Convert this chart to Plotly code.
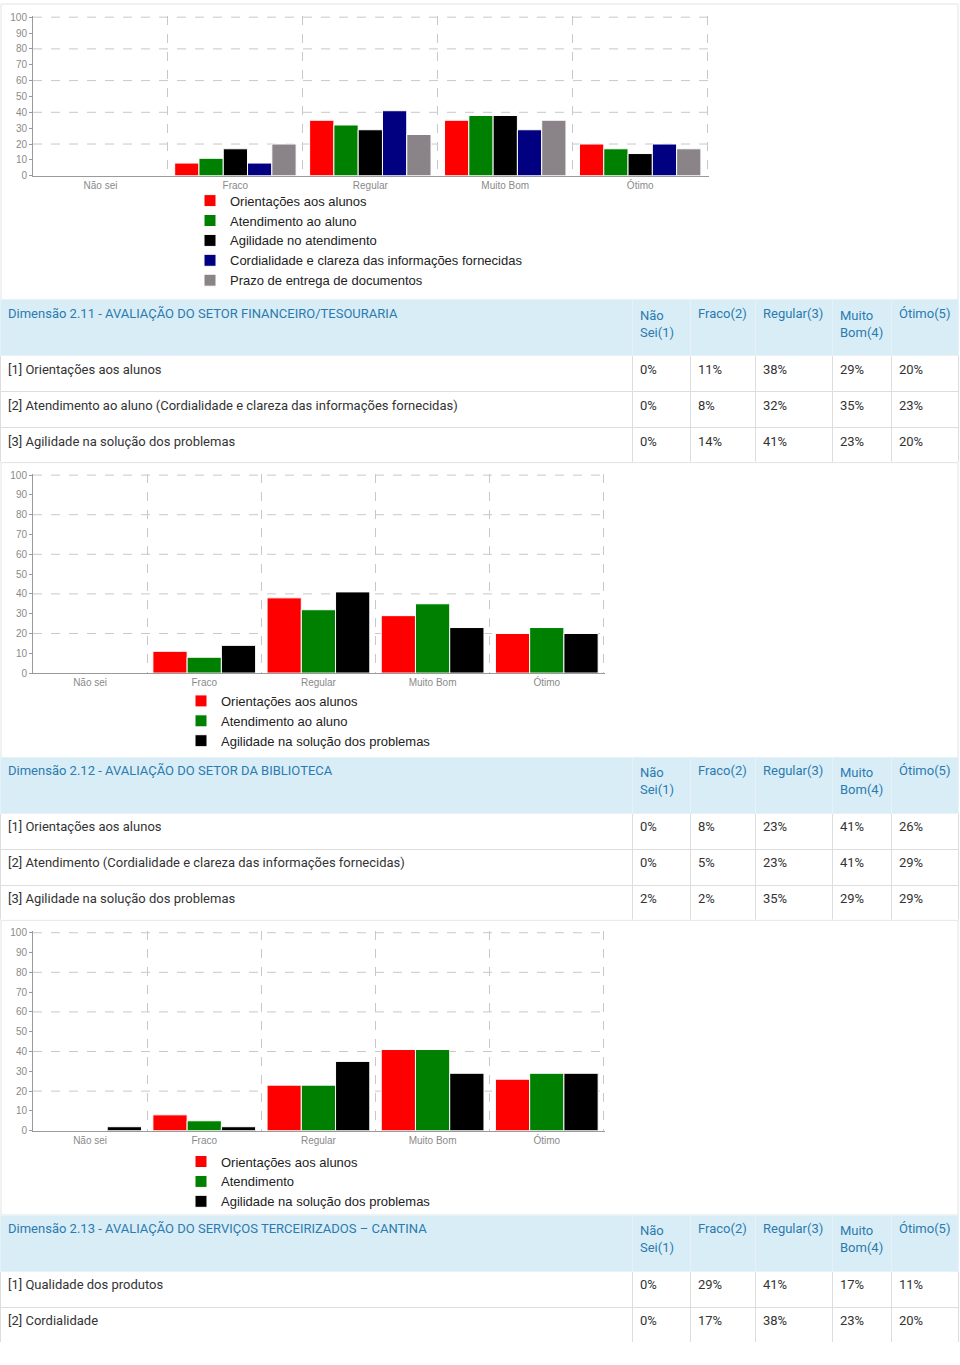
import plotly.graph_objects as go

W, H = 960, 1365

categories = ['Não sei', 'Fraco', 'Regular', 'Muito Bom', 'Ótimo']
grid_values = [20, 40, 60, 80, 100]

# chart 1
chart1_names = ['Orientações aos alunos', 'Atendimento ao aluno', 'Agilidade no atendimento',
                'Cordialidade e clareza das informações fornecidas', 'Prazo de entrega de documentos']
chart1_orientacoes = [0, 8, 35, 35, 20]
chart1_atendimento = [0, 11, 32, 38, 17]
chart1_agilidade = [0, 17, 29, 38, 14]
chart1_cordialidade = [0, 8, 41, 29, 20]
chart1_prazo = [0, 20, 26, 35, 17]

# chart 2 - dimensão 2.11
chart2_names = ['Orientações aos alunos', 'Atendimento ao aluno', 'Agilidade na solução dos problemas']
chart2_orientacoes = [0, 11, 38, 29, 20]
chart2_atendimento = [0, 8, 32, 35, 23]
chart2_agilidade = [0, 14, 41, 23, 20]

# chart 3 - dimensão 2.12
chart3_names = ['Orientações aos alunos', 'Atendimento', 'Agilidade na solução dos problemas']
chart3_orientacoes = [0, 8, 23, 41, 26]
chart3_atendimento = [0, 5, 23, 41, 29]
chart3_agilidade = [2, 2, 35, 29, 29]

table_cols = ['Não<br>Sei(1)', 'Fraco(2)', 'Regular(3)', 'Muito<br>Bom(4)', 'Ótimo(5)']

t1_title = 'Dimensão 2.11 - AVALIAÇÃO DO SETOR FINANCEIRO/TESOURARIA'
t1_items = ['[1] Orientações aos alunos',
            '[2] Atendimento ao aluno (Cordialidade e clareza das informações fornecidas)',
            '[3] Agilidade na solução dos problemas']
t1_values = [['0%', '11%', '38%', '29%', '20%'],
             ['0%', '8%', '32%', '35%', '23%'],
             ['0%', '14%', '41%', '23%', '20%']]

t2_title = 'Dimensão 2.12 - AVALIAÇÃO DO SETOR DA BIBLIOTECA'
t2_items = ['[1] Orientações aos alunos',
            '[2] Atendimento (Cordialidade e clareza das informações fornecidas)',
            '[3] Agilidade na solução dos problemas']
t2_values = [['0%', '8%', '23%', '41%', '26%'],
             ['0%', '5%', '23%', '41%', '29%'],
             ['2%', '2%', '35%', '29%', '29%']]

t3_title = 'Dimensão 2.13 - AVALIAÇÃO DO SERVIÇOS TERCEIRIZADOS – CANTINA'
t3_items = ['[1] Qualidade dos produtos', '[2] Cordialidade']
t3_values = [['0%', '29%', '41%', '17%', '11%'],
             ['0%', '17%', '38%', '23%', '20%']]

colors5 = ['#ff0000', '#008000', '#000000', '#000080', '#8a8489']
colors3 = ['#ff0000', '#008000', '#000000']

TICK_FONT = dict(family='Liberation Sans, Arial', size=10, color='#8a8a8a')
TABLE_FONT = 'Roboto, Liberation Sans, Arial'
GRID_COLOR = '#c8c8c8'


def px_x(x):
    return x / W


def px_y(y):
    return 1 - y / H


def add_chart(fig, names, series, colors, n, legend_name):
    xa = 'x' if n == 1 else 'x%d' % n
    ya = 'y' if n == 1 else 'y%d' % n
    for name, vals, color in zip(names, series, colors):
        fig.add_trace(go.Bar(x=categories, y=vals, name=name, marker_color=color,
                             marker_line=dict(color='white', width=1),
                             xaxis=xa, yaxis=ya, legend=legend_name, legendgroup=name + str(n),
                             showlegend=True))
    # dashed horizontal grid every 20
    for g in grid_values:
        fig.add_shape(type='line', xref=xa + ' domain', yref=ya, x0=0, x1=1, y0=g, y1=g,
                      line=dict(color=GRID_COLOR, width=1, dash='dash'), layer='below')


def chart_axes(fig, n, left, right, top, bottom):
    xkey = 'xaxis' if n == 1 else 'xaxis%d' % n
    ykey = 'yaxis' if n == 1 else 'yaxis%d' % n
    ya = 'y' if n == 1 else 'y%d' % n
    xa = 'x' if n == 1 else 'x%d' % n
    fig.update_layout({
        xkey: dict(domain=[px_x(left), px_x(right)], anchor=ya, type='category',
                   range=[-0.5, 4.51], tickson='boundaries', showgrid=True, griddash='dash',
                   gridcolor=GRID_COLOR, gridwidth=1, showline=True, linecolor='#9a9a9a',
                   ticks='', tickfont=TICK_FONT, fixedrange=True),
        ykey: dict(domain=[px_y(bottom), px_y(top)], anchor=xa, range=[0, 100.8], dtick=10,
                   showgrid=False, zeroline=False, showline=True, linecolor='#9a9a9a',
                   ticks='outside', ticklen=3, tickcolor='#9a9a9a', tickfont=TICK_FONT,
                   fixedrange=True),
    })


def add_table(fig, title, items, values, top):
    n_rows = len(items)
    bottom = top + 56 + 36 * n_rows
    cols = [items] + [[row[i] for row in values] for i in range(5)]
    fig.add_trace(go.Table(
        domain=dict(x=[0, px_x(958)], y=[px_y(bottom), px_y(top)]),
        columnwidth=[632, 58, 65, 77, 59, 67],
        header=dict(values=[title] + table_cols, fill_color='#d9edf7', align='left',
                    line=dict(color='#e6f2f8', width=1), height=56,
                    font=dict(family=TABLE_FONT, size=13, color='#2b7bae')),
        cells=dict(values=cols, fill_color='white', align='left',
                   line=dict(color='#dddddd', width=1), height=36,
                   font=dict(family=TABLE_FONT, size=13, color='#333333')),
    ))


fig = go.Figure()

chart_axes(fig, 1, 33, 709, 12, 173)
chart_axes(fig, 2, 33, 605, 473, 674)
chart_axes(fig, 3, 33, 605, 934, 1135)

add_chart(fig, chart1_names,
          [chart1_orientacoes, chart1_atendimento, chart1_agilidade, chart1_cordialidade, chart1_prazo],
          colors5, 1, 'legend')
add_chart(fig, chart2_names, [chart2_orientacoes, chart2_atendimento, chart2_agilidade], colors3, 2, 'legend2')
add_chart(fig, chart3_names, [chart3_orientacoes, chart3_atendimento, chart3_agilidade], colors3, 3, 'legend3')

add_table(fig, t1_title, t1_items, t1_values, 298)
add_table(fig, t2_title, t2_items, t2_values, 759)
add_table(fig, t3_title, t3_items, t3_values, 1220)

legend_style = dict(xanchor='left', yanchor='top', bgcolor='rgba(0,0,0,0)', tracegroupgap=0,
                    font=dict(family='Liberation Sans, Arial', size=13, color='#222222'),
                    itemclick=False, itemdoubleclick=False)

# light borders round the chart cells
for t, b in [(0, 298), (462, 759), (923, 1220)]:
    fig.add_shape(type='rect', xref='paper', yref='paper', x0=px_x(1), x1=px_x(958),
                  y0=px_y(b), y1=px_y(t), line=dict(color='#e3e3e3', width=1), layer='below')

fig.update_layout(
    width=W, height=H,
    margin=dict(l=0, r=0, t=0, b=0),
    paper_bgcolor='white', plot_bgcolor='white',
    barmode='group', bargap=0.1, bargroupgap=0,
    showlegend=True,
    legend=dict(x=px_x(190), y=px_y(183), **legend_style),
    legend2=dict(x=px_x(181), y=px_y(687), **legend_style),
    legend3=dict(x=px_x(181), y=px_y(1151), **legend_style),
    hovermode=False,
)

fig.write_html("out.html", config={'displayModeBar': False},
               post_script="document.body.style.margin = '0';")
